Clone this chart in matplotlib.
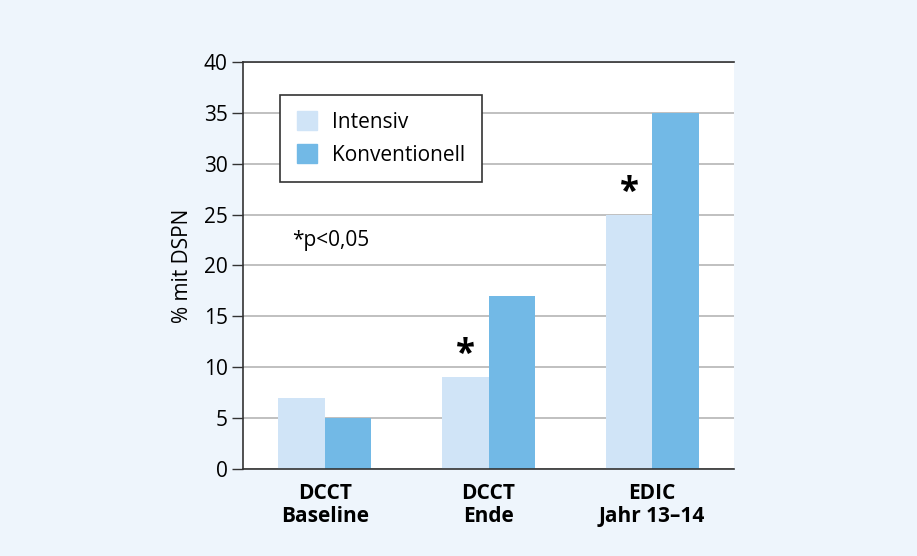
import numpy as np
import matplotlib
matplotlib.use("Agg")
import matplotlib.pyplot as plt
from matplotlib.patches import Patch

# data
groups = ["DCCT\nBaseline", "DCCT\nEnde", "EDIC\nJahr 13–14"]
intensiv = [7, 9, 25]
konventionell = [5, 17, 35]
signif = [False, True, True]

c_int = "#d0e4f7"
c_konv = "#72b9e6"
bg = "#eef5fc"

plt.rcParams['font.family'] = ['Open Sans', 'DejaVu Sans']

fig = plt.figure(figsize=(9.17, 5.56), dpi=100)
fig.patch.set_facecolor(bg)
ax = fig.add_axes([0.265, 0.1565, 0.5355, 0.732])

x = np.arange(len(groups))
w = 0.285
ax.bar(x - w / 2, intensiv, w, color=c_int, zorder=2)
ax.bar(x + w / 2, konventionell, w, color=c_konv, zorder=2)

for i, s in enumerate(signif):
    if s:
        ax.text(x[i] - w / 2, intensiv[i] + 0.4, "*", ha="center", va="bottom",
                fontsize=25, fontweight="bold")

ax.set_xlim(-0.5, 2.5)
ax.set_ylim(0, 40)
ax.set_yticks(range(0, 41, 5))
ax.set_xticks(x)
ax.set_xticklabels(groups, fontweight="bold", fontsize=15, linespacing=1.15)
ax.tick_params(axis="x", length=0, pad=10)
ax.tick_params(axis="y", labelsize=15, length=8, width=1, color="#333333", direction="out", pad=3)
ax.yaxis.grid(True, color="#b5b5b5", linewidth=1.2, zorder=0)
ax.set_axisbelow(True)
ax.set_ylabel("% mit DSPN", fontsize=15, labelpad=8)

for side in ["left", "bottom", "top"]:
    ax.spines[side].set_color("#333333")
    ax.spines[side].set_linewidth(1.2)
ax.spines["right"].set_visible(False)

ax.text(-0.2, 22.5, "*p<0,05", fontsize=15, va="center")

handles = [Patch(color=c_int, label="Intensiv"), Patch(color=c_konv, label="Konventionell")]
leg = ax.legend(handles=handles, loc="upper left", bbox_to_anchor=(0.075, 0.92),
                fontsize=15, frameon=True, fancybox=False, borderpad=0.8,
                handlelength=1.0, handleheight=1.0, labelspacing=0.55, handletextpad=0.7,
                borderaxespad=0)
leg.get_frame().set_edgecolor("#333333")
leg.get_frame().set_linewidth(1.2)
leg.get_frame().set_alpha(1)

fig.savefig("out.png", dpi=100, facecolor=bg)
